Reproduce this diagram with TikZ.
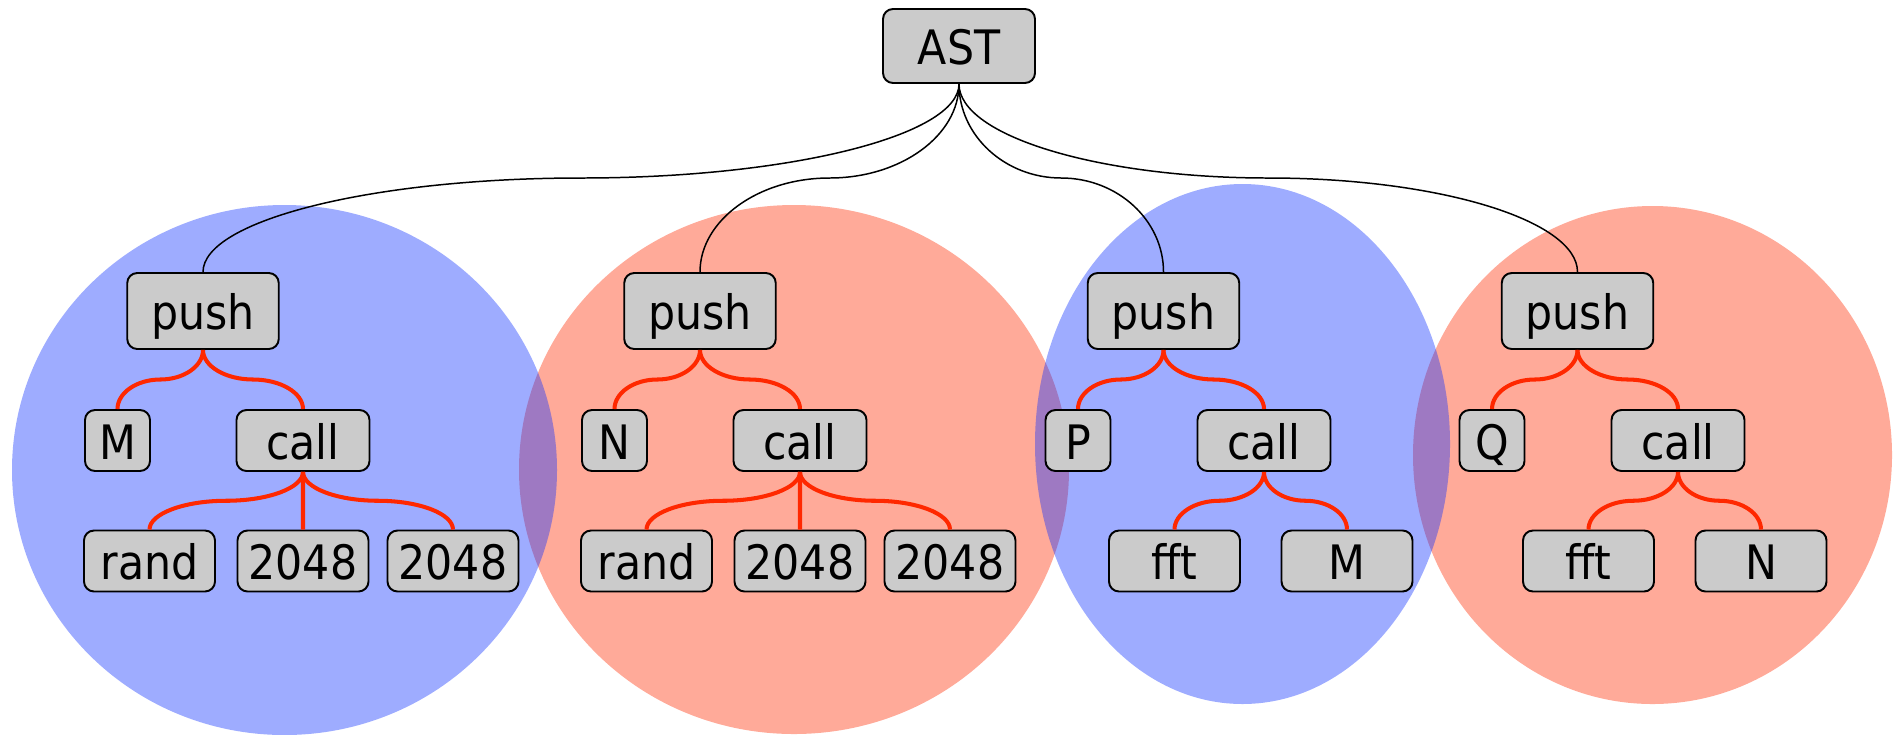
\documentclass[tikz,border=0pt]{standalone}
\usepackage{fontspec}
\setmainfont[FakeStretch=0.9]{DejaVu Sans}
\usetikzlibrary{calc}
\definecolor{boxgray}{RGB}{203,203,203}
\definecolor{edgered}{RGB}{255,40,0}
\definecolor{setblue}{RGB}{13,48,255}
\definecolor{setred}{RGB}{255,42,0}

\begin{document}
\begin{tikzpicture}[line join=round, font=\fontsize{27}{32}\selectfont,
	box/.style={draw=black, line width=1.1pt, fill=boxgray, rounded corners=0.2cm,
		inner sep=0pt, text height=21.6pt, text depth=0pt},
	opbox/.style={box, minimum width=3.03cm, minimum height=1.52cm},
	callbox/.style={box, minimum width=2.66cm, minimum height=1.22cm},
	argbox/.style={box, minimum width=2.62cm, minimum height=1.22cm},
	varbox/.style={box, minimum width=1.3cm, minimum height=1.22cm},
	astedge/.style={draw=black, line width=0.85pt},
	subedge/.style={draw=edgered, line width=2.3pt},
	setfill/.style={fill=#1, fill opacity=0.4}]
	
	\useasboundingbox (0,0) rectangle (37.88,-14.68);
	
	% ===============================
	% clusters: red ones first, blue ones drawn on top
	% ===============================
	\fill[setfill=setred] (15.88,-9.39) ellipse (5.5 and 5.29);
	\fill[setfill=setred] (33.05,-9.10) ellipse (4.79 and 4.98);
	\fill[setfill=setblue] (5.69,-9.40) ellipse (5.45 and 5.3);
	\fill[setfill=setblue] (24.85,-8.88) ellipse (4.15 and 5.2);
	
	% ---- root ----
	\node[opbox, minimum width=3.04cm, minimum height=1.48cm] (ast) at (19.18,-0.92) {AST};
	
	% ---- 1st statement: push M (call rand 2048 2048) ----
	\begin{scope}[shift={(4.06,0)}]
		\node[opbox] (push1) at (0,-6.22) {push};
		\node[varbox] (var1) at (-1.71,-8.81) {M};
		\node[callbox] (call1) at (2.0,-8.81) {call};
		\node[argbox] (fn1) at (-1.07,-11.22) {rand};
		\node[argbox] (argA1) at (2.0,-11.22) {2048};
		\node[argbox] (argB1) at (5.0,-11.22) {2048};
	\end{scope}
	
	% ---- 2nd statement: push N (call rand 2048 2048) ----
	\begin{scope}[shift={(14.0,0)}]
		\node[opbox] (push2) at (0,-6.22) {push};
		\node[varbox] (var2) at (-1.71,-8.81) {N};
		\node[callbox] (call2) at (2.0,-8.81) {call};
		\node[argbox] (fn2) at (-1.07,-11.22) {rand};
		\node[argbox] (argA2) at (2.0,-11.22) {2048};
		\node[argbox] (argB2) at (5.0,-11.22) {2048};
	\end{scope}
	
	% ---- 3rd statement: push P (call fft M) ----
	\begin{scope}[shift={(23.27,0)}]
		\node[opbox] (push3) at (0,-6.22) {push};
		\node[varbox] (var3) at (-1.71,-8.81) {P};
		\node[callbox] (call3) at (2.01,-8.81) {call};
		\node[argbox] (fn3) at (0.22,-11.22) {fft};
		\node[argbox] (argA3) at (3.67,-11.22) {M};
	\end{scope}
	
	% ---- 4th statement: push Q (call fft N) ----
	\begin{scope}[shift={(31.55,0)}]
		\node[opbox] (push4) at (0,-6.22) {push};
		\node[varbox] (var4) at (-1.71,-8.81) {Q};
		\node[callbox] (call4) at (2.01,-8.81) {call};
		\node[argbox] (fn4) at (0.22,-11.22) {fft};
		\node[argbox] (argA4) at (3.67,-11.22) {N};
	\end{scope}
	
	% ---- edges: down, flat at half height, down again ----
	\foreach \p/\c/\s in {ast/push1/astedge, ast/push2/astedge, ast/push3/astedge, ast/push4/astedge,
		push1/var1/subedge, push1/call1/subedge, call1/fn1/subedge, call1/argA1/subedge, call1/argB1/subedge,
		push2/var2/subedge, push2/call2/subedge, call2/fn2/subedge, call2/argA2/subedge, call2/argB2/subedge,
		push3/var3/subedge, push3/call3/subedge, call3/fn3/subedge, call3/argA3/subedge,
		push4/var4/subedge, push4/call4/subedge, call4/fn4/subedge, call4/argA4/subedge}{
		\coordinate (k) at ($(\p.south)!.5!(\c.north)$);
		\draw[\s] (\p.south) .. controls ($(\p.south)!.55!(\p.south|-k)$) and ($(k)!.55!(\p.south|-k)$) .. (k)
		.. controls ($(k)!.55!(\c.north|-k)$) and ($(\c.north)!.55!(\c.north|-k)$) .. (\c.north);
	}
	
\end{tikzpicture}
\end{document}
